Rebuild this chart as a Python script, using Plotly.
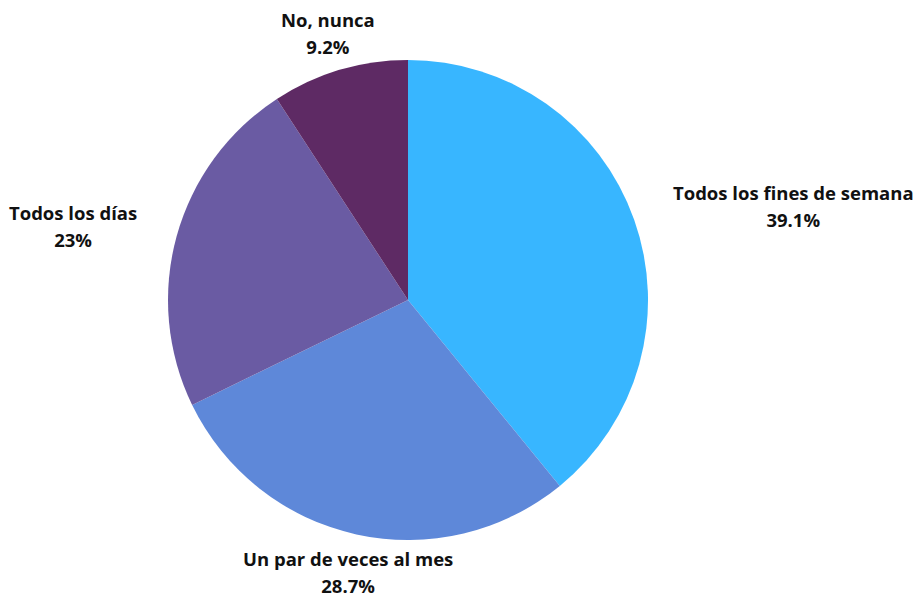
import math
import plotly.graph_objects as go

# Survey answers and their shares (%)
labels = ["Todos los fines de semana", "Un par de veces al mes", "Todos los días", "No, nunca"]
values = [39.1, 28.7, 23, 9.2]
colors = ["#38B6FF", "#5E88D9", "#6A5BA3", "#5E2A64"]

W, H = 922, 599
CX, CY, R = 408, 300, 240   # pie centre and radius in pixels
LABEL_R = R + 39            # distance of the label anchor from the centre

ml, mt = CX - R, CY - R
mr, mb = W - (CX + R), H - (CY + R)

fig = go.Figure(go.Pie(
    labels=labels,
    values=values,
    sort=False,
    direction="clockwise",
    rotation=0,
    textinfo="none",
    hoverinfo="label+percent",
    marker=dict(colors=colors, line=dict(width=0)),
    showlegend=False,
))

# Outside labels placed along each slice's middle angle
total = sum(values)
cum = 0.0
annotations = []
for lab, val in zip(labels, values):
    mid = (cum + val / 2) / total * 2 * math.pi
    cum += val
    dx, dy = math.sin(mid), -math.cos(mid)
    px = CX + LABEL_R * dx
    py = CY + LABEL_R * dy
    if dx > 0.5:
        xa = "left"
    elif dx < -0.5:
        xa = "right"
    else:
        xa = "center"
    pct = f"{val:g}%"
    text = (f"<span style='font-size:18.5px'>{lab}</span><br>"
            f"<span style='font-size:18.5px'>{pct}</span>")
    annotations.append(dict(
        x=(px - ml) / (2 * R),
        y=(H - mb - py) / (2 * R),
        xref="paper", yref="paper",
        text=text, showarrow=False,
        xanchor=xa, yanchor="middle", align="center",
        font=dict(family="Open Sans", size=21, color="#111111", weight="bold"),
    ))

fig.update_layout(
    width=W, height=H,
    margin=dict(l=ml, r=mr, t=mt, b=mb),
    paper_bgcolor="white",
    plot_bgcolor="white",
    font=dict(family="Open Sans"),
    annotations=annotations,
)

fig.write_html("out.html")
